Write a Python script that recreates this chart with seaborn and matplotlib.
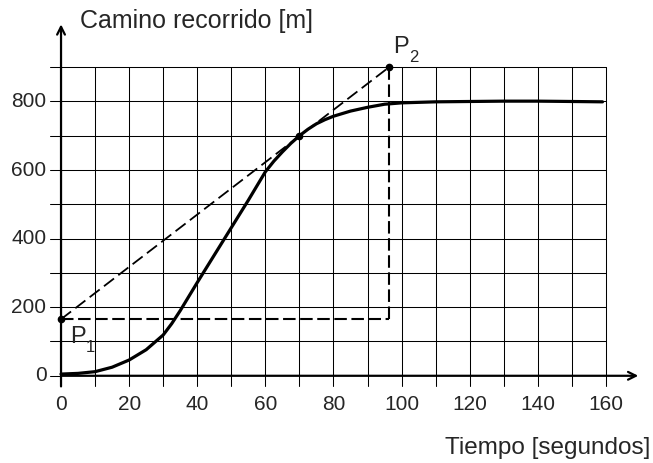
import matplotlib
matplotlib.use("Agg")
import matplotlib.pyplot as plt
import seaborn as sns
import pandas as pd

# ---- data ----
tiempo = [0, 5, 10, 15, 20, 25, 30, 32.5, 35, 37.5, 40, 42.5, 45, 50, 55, 60, 62.5, 65, 67.5,
          70, 72.5, 75, 77.5, 80, 85, 90, 95, 100, 110, 120, 130, 140, 150, 159]
camino = [5, 7, 12, 25, 46, 76, 119, 152, 190, 231, 272, 312, 352, 432, 512, 595, 626, 653, 678,
          700, 719, 735, 747, 757, 772, 783, 792, 796, 799, 800, 801, 801, 800, 799]
x_ticks = [0, 20, 40, 60, 80, 100, 120, 140, 160]
y_ticks = [0, 200, 400, 600, 800]
p1 = (0, 165)
p2 = (96.3, 900)
tangent_pt = (70, 700)
x_label = "Tiempo [segundos]"
y_label = "Camino recorrido [m]"

sns.set_style("white")
plt.rcParams['font.family'] = ['Liberation Sans', 'DejaVu Sans']

fig = plt.figure(figsize=(6.53, 4.63), dpi=100)
ax = fig.add_axes([0.07259, 0.15875, 0.9179, 0.8294])
ax.set_xlim(-4, 172)
ax.set_ylim(-40, 1080)

grid_kw = dict(color="black", lw=0.75, zorder=1)
# vertical grid lines (and ticks below the axis)
for gx in range(10, 161, 10):
    ax.plot([gx, gx], [-31, 900], **grid_kw)
# horizontal grid lines
for gy in range(100, 901, 100):
    ax.plot([-3.3, 160], [gy, gy], **grid_kw)
ax.plot([-3.3, 0], [0, 0], **grid_kw)

# axes with arrows
ax.annotate("", xy=(169.5, 0), xytext=(0, 0),
            arrowprops=dict(arrowstyle="->", lw=1.6, color="black", mutation_scale=14,
                            shrinkA=0, shrinkB=0), zorder=3)
ax.annotate("", xy=(0, 1025), xytext=(0, -31),
            arrowprops=dict(arrowstyle="->", lw=1.6, color="black", mutation_scale=14,
                            shrinkA=0, shrinkB=0), zorder=3)

# curve
df = pd.DataFrame({"t": tiempo, "s": camino})
sns.lineplot(data=df, x="t", y="s", ax=ax, color="black", lw=2.3, zorder=4)
ax.set_xlim(-4, 172)
ax.set_ylim(-40, 1080)
ax.axis("off")

# dashed construction lines
ax.plot([p1[0], p2[0]], [p1[1], p2[1]], color="black", lw=1.3, dashes=(7, 3), zorder=3)
ax.plot([p1[0], p2[0]], [p1[1], p1[1]], color="black", lw=1.5, dashes=(6, 2.2), zorder=3)
ax.plot([p2[0], p2[0]], [p1[1], p2[1]], color="black", lw=1.5, dashes=(6, 2.2), zorder=3)

# points
ax.plot([p1[0], tangent_pt[0], p2[0]], [p1[1], tangent_pt[1], p2[1]], "o",
        color="black", ms=4.5, zorder=5)

# point labels
ax.text(2.6, 95, "P", fontsize=17, ha="left", va="baseline")
ax.text(7.4, 69, "1", fontsize=12, ha="left", va="baseline")
ax.text(97.4, 942, "P", fontsize=17, ha="left", va="baseline")
ax.text(102.2, 916, "2", fontsize=12, ha="left", va="baseline")

for xt in x_ticks:
    ax.text(xt, -85, str(xt), fontsize=15, ha="center", va="center", clip_on=False)
for yt in y_ticks:
    ax.text(-4.3, yt, str(yt), fontsize=15, ha="right", va="center", clip_on=False)

ax.text(5.6, 1013, y_label, fontsize=18, ha="left", va="baseline", clip_on=False)
ax.text(173.1, -228, x_label, fontsize=17.5, ha="right", va="baseline", clip_on=False)

fig.savefig("out.png", dpi=100)
